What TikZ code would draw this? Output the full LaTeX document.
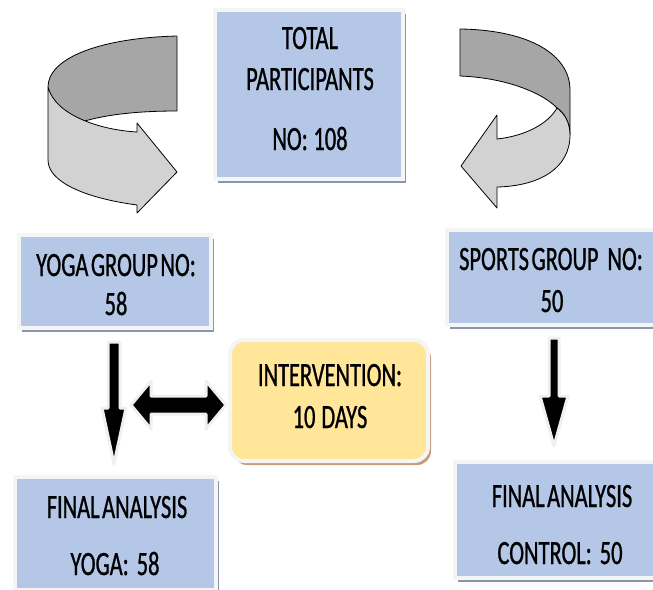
\documentclass[tikz,border=0pt]{standalone}
\usepackage{fontspec}
\newfontfamily\cf[FakeStretch=0.66, FakeBold=0.8, WordSpace=0.5]{Carlito}
\usetikzlibrary{shadows,calc}
\definecolor{boxblue}{HTML}{B4C7E7}
\definecolor{shblue}{HTML}{8796AE}
\definecolor{ylw}{HTML}{FFE699}
\definecolor{shbrown}{HTML}{C49C7C}
\definecolor{darkband}{HTML}{A6A6A6}
\definecolor{lightband}{HTML}{D3D2D3}
\tikzset{
  bluebox/.style={draw=gray!8, line width=4pt, fill=boxblue, inner sep=0pt,
    drop shadow={shadow xshift=3pt, shadow yshift=-4pt, fill=shblue, opacity=1}},
  ylwbox/.style={draw=gray!8, line width=4pt, fill=ylw, inner sep=0pt, rounded corners=14pt,
    drop shadow={shadow xshift=3pt, shadow yshift=-4pt, fill=shbrown, opacity=1}},
  txt/.style={font=\cf\fontsize{34}{40}\selectfont, inner sep=0pt, anchor=base},
  ribbon/.style={draw=black, line width=0.8pt, line join=round},
  blockarrow/.style={fill=black, draw=gray!12, line width=3pt, line join=round}
}
\begin{document}
\begin{tikzpicture}[x=1pt, y=-1pt]
\useasboundingbox (0,0) rectangle (653,589);
% boxes
\node[bluebox, minimum width=188pt, minimum height=169pt] (total) at (309,94.5) {};
\node[bluebox, minimum width=192pt, minimum height=93pt] (yoga) at (115,281.5) {};
\node[bluebox, minimum width=213pt, minimum height=95pt] (sports) at (553.5,277.5) {};
\node[bluebox, minimum width=201pt, minimum height=113pt] (fyoga) at (115.5,533.5) {};
\node[bluebox, minimum width=205pt, minimum height=116pt] (fctrl) at (557.5,520) {};
\node[ylwbox, minimum width=198pt, minimum height=121pt] (interv) at (329,400.5) {};
% texts
\node[txt] (t1) at (310,49) {TOTAL};
\node[txt] (t2) at (310,90) {PARTICIPANTS};
\node[txt] (t3) at (310,150) {NO:\,108};
\node[txt] (y1) at (116,276) {YOGA GROUP NO:};
\node[txt] (y2) at (116,315) {58};
\node[txt] (s1) at (551,270) {SPORTS GROUP\hspace{9pt}NO:};
\node[txt] (s2) at (552,312) {50};
\node[txt] (i1) at (330,386) {INTERVENTION:};
\node[txt] (i2) at (330,428) {10\hspace{6pt}DAYS};
\node[txt] (f1) at (117,518) {FINAL ANALYSIS};
\node[txt] (f2) at (115,575) {YOGA:\hspace{8pt}58};
\node[txt] (c1) at (562,507) {FINAL ANALYSIS};
\node[txt] (c2) at (560,564) {CONTROL:\hspace{8pt}50};
% left curved arrow
\fill[darkband] (177,36) .. controls (100,38) and (48,58) .. (48,87) -- (48,130) -- (70,126) .. controls (95,116) and (130,111) .. (177,111) -- cycle;
\draw[ribbon] (177,36) .. controls (100,38) and (48,58) .. (48,87);
\draw[ribbon] (177,36) -- (177,111) .. controls (130,111) and (95,116) .. (70,126);
\draw[ribbon, fill=lightband] (48,87) .. controls (55,115) and (100,130) .. (137,132) -- (137,123) -- (177,172) -- (137,213) -- (137,205) .. controls (85,198) and (48,182) .. (48,160) -- cycle;
% right curved arrow
\draw[ribbon, fill=darkband] (460,29) .. controls (530,30) and (570,55) .. (570,90) -- (570,135) .. controls (570,122) and (564,113) .. (557,108) .. controls (545,95) and (510,78) .. (460,76) -- cycle;
\draw[ribbon, fill=lightband] (557,108) .. controls (564,113) and (570,122) .. (570,135) .. controls (570,168) and (540,186) .. (497,187) -- (497,208) -- (461,166) -- (497,115) -- (497,139) .. controls (525,136) and (548,124) .. (557,108) -- cycle;
% block arrows
\coordinate (la1) at (114,342);
\coordinate (la2) at (114,464);
\draw[blockarrow] ($(la1)+(-6,0)$) -- ($(la1)+(6,0)$) -- ($(la2)+(6,-56)$) -- ($(la2)+(12,-56)$) -- (la2) -- ($(la2)+(-12,-56)$) -- ($(la2)+(-6,-56)$) -- cycle;
\coordinate (ra1) at (554,338);
\coordinate (ra2) at (554,446);
\draw[blockarrow] ($(ra1)+(-5,0)$) -- ($(ra1)+(5,0)$) -- ($(ra2)+(5,-50)$) -- ($(ra2)+(14,-50)$) -- (ra2) -- ($(ra2)+(-14,-50)$) -- ($(ra2)+(-5,-50)$) -- cycle;
\coordinate (da1) at (131,405);
\coordinate (da2) at (226,405);
\draw[blockarrow] (da1) -- ($(da1)+(20,-24)$) -- ($(da1)+(20,-9)$) -- ($(da2)+(-20,-9)$) -- ($(da2)+(-20,-24)$) -- (da2) -- ($(da2)+(-20,24)$) -- ($(da2)+(-20,9)$) -- ($(da1)+(20,9)$) -- ($(da1)+(20,24)$) -- cycle;
\end{tikzpicture}
\end{document}
